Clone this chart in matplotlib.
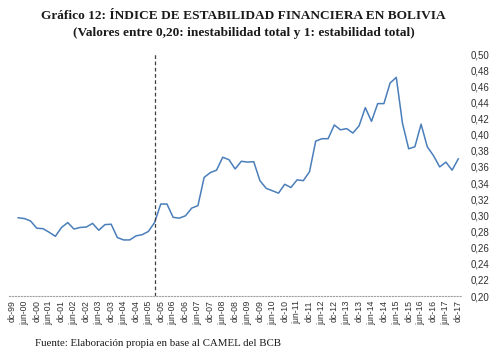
import matplotlib.pyplot as plt

# etiquetas semestrales del eje (cada dos trimestres)
etiquetas = ["dc-99"]
for a in range(0, 18):
    etiquetas += [f"jun-{a:02d}", f"dc-{a:02d}"]

# indice trimestral, mar-00 a dic-17
indice = [0.297, 0.296, 0.293, 0.284, 0.2835, 0.279, 0.274, 0.285, 0.291, 0.283,
          0.285, 0.2855, 0.290, 0.2815, 0.2885, 0.289, 0.2725, 0.2695, 0.2695, 0.2745,
          0.276, 0.280, 0.291, 0.314, 0.314, 0.2975, 0.2965, 0.2995, 0.309, 0.312,
          0.347, 0.353, 0.356, 0.372, 0.369, 0.3575, 0.367, 0.366, 0.3665, 0.343,
          0.3335, 0.3305, 0.3275, 0.3385, 0.3345, 0.344, 0.343, 0.354, 0.392, 0.395,
          0.395, 0.412, 0.406, 0.4075, 0.402, 0.411, 0.4335, 0.4165, 0.4385, 0.4385,
          0.464, 0.471, 0.414, 0.3825, 0.385, 0.413, 0.385, 0.374, 0.360, 0.366,
          0.356, 0.370]
trimestres = list(range(1, len(indice) + 1))
corte = 23  # sep-05

yticks = [0.20 + 0.02 * i for i in range(16)]

fig = plt.figure(figsize=(5.01, 3.56), dpi=100)
ax = fig.add_axes([9 / 501, 60 / 356, 453 / 501, 242 / 356])

ax.plot(trimestres, indice, color="#4a7ebb", lw=1.1)
ax.axvline(corte, color="#404040", lw=0.9, ls=(0, (3, 2)))

ax.set_xlim(-0.48, 72.6)
ax.set_ylim(0.20, 0.50)
ax.set_xticks(range(0, 73, 2))
ax.set_xticklabels(etiquetas, rotation=90, fontsize=6.3, color="#303030",
                   family="Liberation Sans")
ax.set_yticks(yticks)
ax.set_yticklabels([f"{v:.2f}".replace(".", ",") for v in yticks], fontsize=7,
                   color="#303030", family="Liberation Sans")
ax.yaxis.tick_right()
ax.tick_params(length=0)
ax.tick_params(axis="y", pad=6)
ax.tick_params(axis="x", pad=3)

for s in ["top", "left", "right"]:
    ax.spines[s].set_visible(False)
ax.spines["bottom"].set_color("#a0a0a0")
ax.spines["bottom"].set_linestyle(":")
ax.spines["bottom"].set_linewidth(0.8)

fig.text(0.486, 1 - 16 / 356, "Gráfico 12: ÍNDICE DE ESTABILIDAD FINANCIERA EN BOLIVIA",
         ha="center", va="center", fontsize=9.6, fontweight="bold",
         family="Liberation Serif", color="#1a1a1a")
fig.text(0.486, 1 - 33 / 356, "(Valores entre 0,20: inestabilidad total y 1: estabilidad total)",
         ha="center", va="center", fontsize=9.6, fontweight="bold",
         family="Liberation Serif", color="#1a1a1a")
fig.text(35 / 501, 1 - 343 / 356, "Fuente: Elaboración propia en base al CAMEL del BCB",
         ha="left", va="center", fontsize=7.8, family="Liberation Serif", color="#1a1a1a")

fig.savefig("out.png", dpi=100)
